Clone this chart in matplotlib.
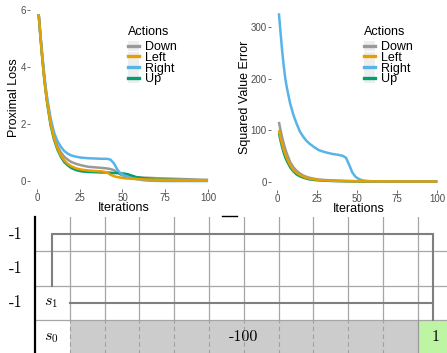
import matplotlib
matplotlib.use('Agg')
import matplotlib.pyplot as plt
from matplotlib.lines import Line2D
from matplotlib.patches import Rectangle

plt.rcParams['font.family'] = ['Liberation Sans', 'DejaVu Sans']
plt.rcParams['mathtext.fontset'] = 'cm'

# ---------------- data ----------------
actions = ['Down', 'Left', 'Right', 'Up']
iters = [1, 2, 3, 4, 5, 6, 8, 10, 12, 14, 16, 18, 20, 23, 26, 30, 34, 38, 41, 43,
         45, 47, 49, 51, 53, 55, 58, 62, 66, 70, 75, 80, 85, 90, 95, 100]

prox_down = [5.85, 5.1, 4.4, 3.8, 3.25, 2.8, 2.05, 1.55, 1.22, 1.0, 0.85, 0.75, 0.67,
             0.6, 0.55, 0.5, 0.48, 0.46, 0.44, 0.42, 0.38, 0.3, 0.22, 0.18, 0.16, 0.15,
             0.13, 0.12, 0.11, 0.10, 0.09, 0.08, 0.07, 0.06, 0.05, 0.04]
prox_left = [5.85, 5.1, 4.4, 3.75, 3.2, 2.75, 2.0, 1.5, 1.15, 0.9, 0.72, 0.6, 0.52,
             0.44, 0.4, 0.37, 0.35, 0.34, 0.3, 0.22, 0.17, 0.14, 0.12, 0.1, 0.09, 0.08,
             0.07, 0.06, 0.05, 0.05, 0.04, 0.04, 0.03, 0.03, 0.03, 0.02]
prox_right = [5.85, 5.15, 4.5, 3.9, 3.35, 2.9, 2.2, 1.7, 1.4, 1.2, 1.05, 0.96, 0.9,
              0.85, 0.82, 0.8, 0.79, 0.78, 0.78, 0.75, 0.62, 0.4, 0.26, 0.2, 0.15, 0.11,
              0.07, 0.03, 0.01, 0.005, 0.0, 0.0, 0.0, 0.0, 0.0, 0.0]
prox_up = [5.85, 5.1, 4.4, 3.75, 3.2, 2.72, 1.95, 1.45, 1.1, 0.85, 0.66, 0.55, 0.46,
           0.38, 0.34, 0.32, 0.31, 0.3, 0.3, 0.29, 0.28, 0.28, 0.27, 0.26, 0.24, 0.2,
           0.14, 0.1, 0.08, 0.06, 0.05, 0.04, 0.03, 0.03, 0.02, 0.02]

sve_down = [116, 100, 86, 74, 63, 54, 38, 28, 21, 16, 12, 9.5, 7.5, 5.5, 4, 3, 2.2,
            1.6, 1.3, 1.1, 1.0, 0.9, 0.8, 0.7, 0.6, 0.6, 0.5, 0.5, 0.4, 0.4, 0.3, 0.3,
            0.3, 0.2, 0.2, 0.2]
sve_left = [100, 86, 73, 62, 53, 45, 32, 23, 17, 13, 10, 7.5, 6, 4.3, 3.2, 2.3, 1.7,
            1.3, 1.1, 1.0, 0.9, 0.8, 0.7, 0.6, 0.6, 0.5, 0.5, 0.4, 0.4, 0.3, 0.3, 0.3,
            0.2, 0.2, 0.2, 0.2]
sve_right = [327, 290, 255, 225, 200, 182, 152, 130, 113, 98, 88, 80, 74, 67, 61, 57,
             54, 52, 50, 46, 32, 17, 9, 5, 2.5, 1.5, 0.8, 0.5, 0.3, 0.2, 0.1, 0.1, 0.1,
             0.1, 0.1, 0.1]
sve_up = [94, 80, 67, 56, 47, 40, 28, 20, 14, 10.5, 8, 6, 4.5, 3.2, 2.4, 1.7, 1.2, 0.9,
          0.8, 0.7, 0.6, 0.5, 0.5, 0.4, 0.4, 0.3, 0.3, 0.3, 0.2, 0.2, 0.2, 0.2, 0.1, 0.1,
          0.1, 0.1]

x_ticks = [0, 25, 50, 75, 100]
prox_ticks = [0, 2, 4, 6]
sve_ticks = [0, 100, 200, 300]

# grid world diagram
n_cols = 12
n_rows = 4
row_rewards = ['-1', '-1', '-1']
row_reward_y = [3.5, 2.5, 1.5]
state_labels = [r'$s_1$', r'$s_0$']
state_label_y = [1.5, 0.5]
cliff_label = '-100'
goal_label = '1'
path1_x = [0.5, 0.5, 11.45, 11.45]
path1_y = [2.0, 3.5, 3.5, 1.0]
path2_x = [1.0, 11.45]
path2_y = [1.5, 1.5]
mark_x = [5.37, 5.8]
mark_y = [4.03, 4.03]

colors = {'Down': '#999999', 'Left': '#E69F00', 'Right': '#56B4E9', 'Up': '#009E73'}
draw_order = ['Down', 'Up', 'Right', 'Left']

W, H = 447, 353
fig = plt.figure(figsize=(W / 100, H / 100), dpi=100)


def px_axes(x0, y0, x1, y1):
    return fig.add_axes([x0 / W, 1 - y1 / H, (x1 - x0) / W, (y1 - y0) / H])


def style_line_axes(ax, ylim, yticks, ylabel, ylab_x, leg_x, title_y, rows_y, series):
    for a in draw_order:
        ax.plot(iters, series[a], color=colors[a], lw=1.8, solid_capstyle='butt')
    ax.set_xlim(-3.95, 104.95)
    ax.set_ylim(*ylim)
    ax.set_xticks(x_ticks)
    ax.set_yticks(yticks)
    for s in ax.spines.values():
        s.set_visible(False)
    ax.tick_params(length=2, width=0.5, color='#333333', labelsize=7,
                   labelcolor='#4D4D4D', pad=1)
    ax.set_xlabel('Iterations', fontsize=9, va='center')
    ax.xaxis.set_label_coords(0.504, -0.103)
    ax.set_ylabel(ylabel, fontsize=9, va='center')
    ax.yaxis.set_label_coords(ylab_x, 0.5)
    ax.text(leg_x, title_y, 'Actions', transform=ax.transAxes, fontsize=9,
            ha='left', va='center')
    handles = [(Rectangle((0, 0), 1, 1, facecolor='#EEEEEE', edgecolor='none'),
                Line2D([], [], color=colors[a], lw=2.4)) for a in actions]
    ax.legend(handles, actions, loc='upper left',
              bbox_to_anchor=(leg_x, rows_y), frameon=False, fontsize=9,
              handlelength=0.85, handleheight=0.9, handletextpad=0.5,
              labelspacing=-0.15, borderpad=0, borderaxespad=0)


ax1 = px_axes(30.2, 6, 216.5, 189.3)
style_line_axes(ax1, (-0.29, 6.14), prox_ticks, 'Proximal Loss', -0.087, 0.525,
                (189.3 - 32) / 183.3, (189.3 - 41) / 183.3,
                {'Down': prox_down, 'Left': prox_left, 'Right': prox_right, 'Up': prox_up})

ax2 = px_axes(271, 4.9, 445.2, 190)
style_line_axes(ax2, (-16.35, 343.35), sve_ticks, 'Squared Value Error', -0.149, 0.534,
                (190 - 32) / 185.1, (190 - 41) / 185.1,
                {'Down': sve_down, 'Left': sve_left, 'Right': sve_right, 'Up': sve_up})

# ---------------- grid world ----------------
ax3 = px_axes(35, 217, 447, 353)
ax3.set_xlim(0, (447 - 35) / 34.8)
ax3.set_ylim(0.035, 4.0)
ax3.axis('off')

grid_col = '#A6A6A6'
ax3.fill_between([1, n_cols - 1], 0, 1, color='#CCCCCC', lw=0, zorder=1)
ax3.fill_between([n_cols - 1, n_cols], 0, 1, color='#BDF5A4', lw=0, zorder=1)
for yy in range(1, n_rows):
    ax3.plot([0, n_cols], [yy, yy], color=grid_col, lw=0.9, zorder=2)
for xx in range(1, n_cols):
    ax3.plot([xx, xx], [1, n_rows], color=grid_col, lw=0.9, zorder=2)
for xx in range(1, n_cols - 1):
    ax3.plot([xx, xx], [0, 1], color='#A0A0A0', lw=0.8, ls=(0, (4, 3)), zorder=2)
ax3.plot([n_cols - 1, n_cols - 1], [0, 1], color='#9A9A9A', lw=0.9, zorder=2)
ax3.plot([0, 0], [0, n_rows], color='black', lw=1.6, zorder=3, clip_on=False)

ax3.plot(path1_x, path1_y, color='#7F7F7F', lw=1.5, zorder=4, solid_joinstyle='miter')
ax3.plot(path2_x, path2_y, color='#7F7F7F', lw=1.5, zorder=4)
ax3.plot(mark_x, mark_y, color='black', lw=1.0, zorder=4, clip_on=False)

serif = ['cmr10', 'DejaVu Serif']
for lab, yy in zip(row_rewards, row_reward_y):
    ax3.text(-0.55, yy, lab, ha='center', va='center', fontsize=12,
             family=serif, clip_on=False)
for lab, yy in zip(state_labels, state_label_y):
    ax3.text(0.47, yy, lab, ha='center', va='center', fontsize=11.5)
ax3.text(6.0, 0.5, cliff_label, ha='center', va='center', fontsize=11.5, family=serif)
ax3.text(11.5, 0.5, goal_label, ha='center', va='center', fontsize=11.5, family=serif)

fig.savefig('out.png', dpi=100)
